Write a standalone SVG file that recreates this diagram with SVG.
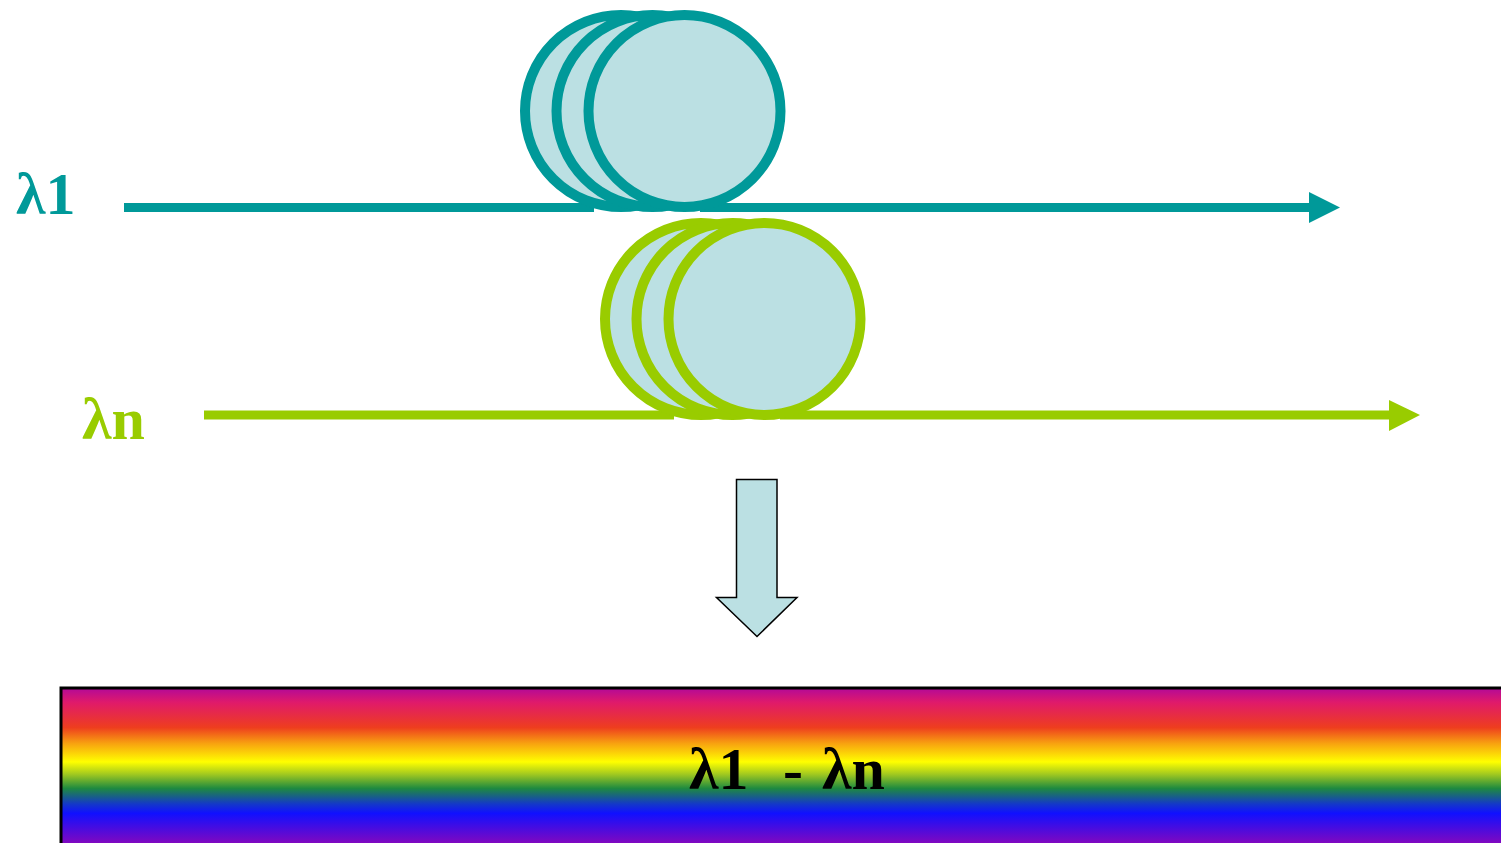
<svg xmlns="http://www.w3.org/2000/svg" width="1501" height="843" viewBox="0 0 1501 843">
<style>
.lbl{font-family:"Liberation Serif","Times New Roman",serif;font-weight:bold;font-size:60px}
.teal{stroke:#009999;fill:none;stroke-width:9}
.green{stroke:#99CC00;fill:none;stroke-width:9}
.ct{fill:#BBE0E3;stroke:#009999;stroke-width:10}
.cg{fill:#BBE0E3;stroke:#99CC00;stroke-width:10}
</style>
<defs>
<linearGradient id="rb" gradientUnits="userSpaceOnUse" x1="0" y1="687" x2="0" y2="843">
<stop offset="0" stop-color="#B0089C"/>
<stop offset="0.1" stop-color="#E01A6A"/>
<stop offset="0.26" stop-color="#EE3E1E"/>
<stop offset="0.36" stop-color="#F8A010"/>
<stop offset="0.48" stop-color="#FFFF00"/>
<stop offset="0.56" stop-color="#A0C820"/>
<stop offset="0.65" stop-color="#1E8A40"/>
<stop offset="0.75" stop-color="#1438C8"/>
<stop offset="0.81" stop-color="#1010FF"/>
<stop offset="1" stop-color="#8008C0"/>
</linearGradient>
</defs>
<rect width="1501" height="843" fill="#FFFFFF"/>
<g id="connectors">
<line class="teal" x1="124" y1="207.5" x2="594" y2="207.5"/>
<line class="teal" x1="700" y1="207.5" x2="1312" y2="207.5"/>
<polygon points="1309,192 1340,207.5 1309,223" fill="#009999"/>
<line class="green" x1="204" y1="415" x2="674" y2="415"/>
<line class="green" x1="780" y1="415" x2="1392" y2="415"/>
<polygon points="1389,400 1420,415 1389,431" fill="#99CC00"/>
</g>
<g id="coil1">
<circle class="ct" cx="621" cy="111" r="96"/>
<circle class="ct" cx="652.5" cy="111" r="96"/>
<circle class="ct" cx="684.5" cy="111" r="96"/>
</g>
<g id="coil2">
<circle class="cg" cx="701" cy="319" r="96"/>
<circle class="cg" cx="732.5" cy="319" r="96"/>
<circle class="cg" cx="764.5" cy="319" r="96"/>
</g>
<g id="label1"><text class="lbl" x="16" y="214" fill="#009999">λ1</text></g>
<g id="labeln"><text class="lbl" x="82" y="439" fill="#99CC00">λn</text></g>
<g id="downarrow">
<polygon points="736.5,479.5 777,479.5 777,597.5 797,597.5 757,636.5 716.5,597.5 736.5,597.5" fill="#BBE0E3" stroke="#000" stroke-width="1.5"/>
</g>
<g id="spectrum">
<rect x="61" y="688" width="1450" height="170" fill="url(#rb)" stroke="#000" stroke-width="3"/>
<text class="lbl" y="789" fill="#000"><tspan x="689">λ1</tspan><tspan x="783">-</tspan><tspan x="822">λn</tspan></text>
</g>
</svg>
